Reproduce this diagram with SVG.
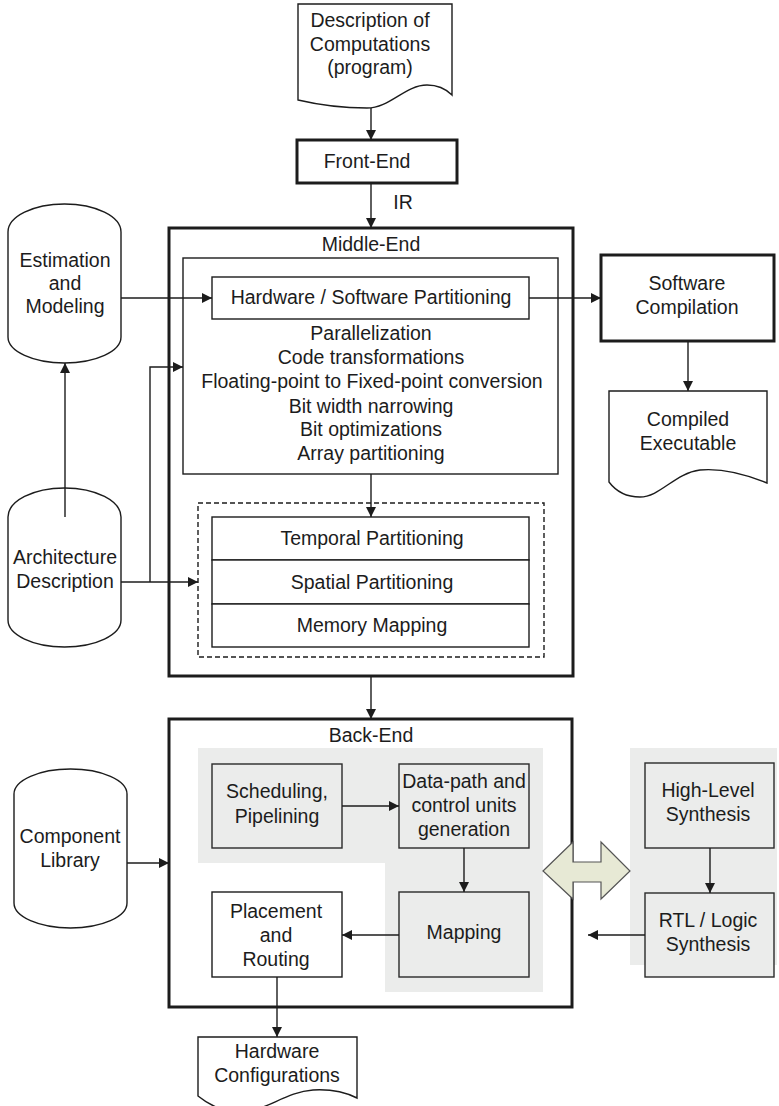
<svg xmlns="http://www.w3.org/2000/svg" width="779" height="1106" viewBox="0 0 779 1106">
  <style>
    text { font-family: "Liberation Sans", Arial, sans-serif; font-size: 19.5px; fill: #1c1c1c; text-anchor: middle; }
    .thin { fill: #ffffff; stroke: #1c1c1c; stroke-width: 1.4; }
    .thick { fill: #ffffff; stroke: #1c1c1c; stroke-width: 3; }
    .grey { fill: #ebeceb; stroke: none; }
    .gbox { fill: #ebeceb; stroke: #2a2a2a; stroke-width: 1.4; }
    .dash { fill: none; stroke: #1c1c1c; stroke-width: 1.4; stroke-dasharray: 5 3; }
    .wire { fill: none; stroke: #1c1c1c; stroke-width: 1.4; }
    .arr { marker-end: url(#head); }
  </style>
  <defs>
    <marker id="head" viewBox="0 0 10 10" refX="10" refY="5" markerUnits="userSpaceOnUse" markerWidth="11" markerHeight="10" orient="auto">
      <path d="M0,0 L10,5 L0,10 Z" fill="#1c1c1c"/>
    </marker>
  </defs>

  <rect width="779" height="1106" fill="#ffffff"/>

  <!-- Program description (document) -->
  <g id="program-doc">
    <path class="thin" d="M298,4 H452 V95 C445,88 437,85 427,85 C405,85 390,108 367,108 C340,108 315,104 298,100 Z"/>
    <text x="370" y="27">Description of</text>
    <text x="370" y="51">Computations</text>
    <text x="370" y="74">(program)</text>
  </g>

  <!-- Front-End -->
  <g id="front-end">
    <rect class="thick" x="297" y="140" width="160" height="43"/>
    <text x="367" y="168">Front-End</text>
  </g>

  <!-- Middle-End container -->
  <g id="middle-end">
    <rect class="thick" x="169" y="228" width="404" height="448"/>
    <text x="371" y="251">Middle-End</text>
    <rect class="thin" x="183" y="258" width="375" height="216"/>
    <text x="371" y="340">Parallelization</text>
    <text x="371" y="364">Code transformations</text>
    <text x="372" y="388">Floating-point to Fixed-point conversion</text>
    <text x="371" y="413">Bit width narrowing</text>
    <text x="371" y="436">Bit optimizations</text>
    <text x="371" y="460">Array partitioning</text>
  </g>

  <g id="hw-sw-partitioning">
    <rect class="thin" x="212" y="277" width="317" height="42"/>
    <text x="371" y="304">Hardware / Software Partitioning</text>
  </g>

  <g id="partitioning-stack">
    <rect class="dash" x="198" y="503" width="346" height="154"/>
    <rect class="thin" x="212" y="517" width="317" height="43"/>
    <rect class="thin" x="212" y="560" width="317" height="44"/>
    <rect class="thin" x="212" y="604" width="317" height="43"/>
    <text x="372" y="545">Temporal Partitioning</text>
    <text x="372" y="589">Spatial Partitioning</text>
    <text x="372" y="632">Memory Mapping</text>
  </g>

  <!-- Software side -->
  <g id="software-compilation">
    <rect class="thick" x="601" y="255" width="173" height="86"/>
    <text x="687" y="290">Software</text>
    <text x="687" y="314">Compilation</text>
  </g>

  <g id="compiled-executable">
    <path class="thin" d="M609,391 H767 V483 C745,474 722,468 700,470 C675,473 660,497 640,497 C625,497 615,490 609,482 Z"/>
    <text x="688" y="426">Compiled</text>
    <text x="688" y="450">Executable</text>
  </g>

  <!-- Databases on the left -->
  <g id="estimation-modeling">
    <path class="thin" d="M8,232 A56.5,28 0 0 1 121,232 V337 A56.5,26 0 0 1 8,337 Z"/>
    <text x="65" y="267">Estimation</text>
    <text x="65" y="290">and</text>
    <text x="65" y="313">Modeling</text>
  </g>

  <g id="architecture-description">
    <path class="thin" d="M8,517 A56.5,29 0 0 1 121,517 V620 A56.5,27 0 0 1 8,620 Z"/>
    <text x="65" y="564">Architecture</text>
    <text x="65" y="588">Description</text>
  </g>

  <g id="component-library">
    <path class="thin" d="M14,794 A56.5,25 0 0 1 127,794 V903 A56.5,25 0 0 1 14,903 Z"/>
    <text x="70" y="843">Component</text>
    <text x="70" y="867">Library</text>
  </g>

  <!-- Back-End container -->
  <g id="back-end">
    <rect class="thick" x="169" y="719" width="403" height="288"/>
    <text x="371" y="742">Back-End</text>
    <path class="grey" d="M198,748 H543 V992 H385 V863 H198 Z"/>
  </g>

  <g id="scheduling">
    <rect class="gbox" x="212" y="764" width="130" height="84"/>
    <text x="277" y="798">Scheduling,</text>
    <text x="277" y="823">Pipelining</text>
  </g>

  <g id="datapath-generation">
    <rect class="gbox" x="399" y="764" width="130" height="84"/>
    <text x="464" y="788">Data-path and</text>
    <text x="464" y="812">control units</text>
    <text x="464" y="836">generation</text>
  </g>

  <g id="mapping">
    <rect class="gbox" x="399" y="892" width="130" height="85"/>
    <text x="464" y="939">Mapping</text>
  </g>

  <g id="placement-routing">
    <rect class="thin" x="212" y="892" width="130" height="85"/>
    <text x="276" y="918">Placement</text>
    <text x="276" y="942">and</text>
    <text x="276" y="966">Routing</text>
  </g>

  <!-- Synthesis tools on the right -->
  <g id="synthesis-tools">
    <rect class="grey" x="630" y="748" width="147" height="217"/>
  </g>

  <g id="high-level-synthesis">
    <rect class="gbox" x="645" y="763" width="129" height="85"/>
    <text x="708" y="797">High-Level</text>
    <text x="708" y="821">Synthesis</text>
  </g>

  <g id="rtl-logic-synthesis">
    <rect class="gbox" x="645" y="893" width="129" height="84"/>
    <text x="708" y="927">RTL / Logic</text>
    <text x="708" y="951">Synthesis</text>
  </g>

  <g id="hardware-configurations">
    <path class="thin" d="M198,1037 H357 V1098 C345,1092 330,1089 313,1090 C285,1092 265,1112 240,1112 C222,1112 208,1104 198,1096 Z"/>
    <text x="277" y="1058">Hardware</text>
    <text x="277" y="1082">Configurations</text>
  </g>

  <!-- Connectors -->
  <g id="connectors">
    <path class="wire arr" d="M371,108 V140"/>
    <path class="wire arr" d="M371,183 V228"/>
    <text x="403" y="209">IR</text>
    <path class="wire arr" d="M121,298 H212"/>
    <path class="wire arr" d="M529,298 H601"/>
    <path class="wire arr" d="M688,341 V391"/>
    <path class="wire arr" d="M65,517 V363"/>
    <path class="wire arr" d="M121,582 H198"/>
    <path class="wire arr" d="M150,582 V367 H183"/>
    <path class="wire arr" d="M371,474 V517"/>
    <path class="wire arr" d="M371,676 V719"/>
    <path class="wire arr" d="M127,863 H169"/>
    <path class="wire arr" d="M342,806 H399"/>
    <path class="wire arr" d="M464,848 V892"/>
    <path class="wire arr" d="M399,935 H342"/>
    <path class="wire arr" d="M277,977 V1037"/>
    <path class="wire arr" d="M710,848 V893"/>
    <path class="wire arr" d="M645,935 H588"/>
    <!-- two-way exchange between back-end and synthesis tools -->
    <path d="M543,871 L573,842 V862 H601 V842 L630,871 L601,899 V882 H573 V899 Z" fill="#e7e9d5" stroke="#555555" stroke-width="1.2"/>
  </g>
</svg>
